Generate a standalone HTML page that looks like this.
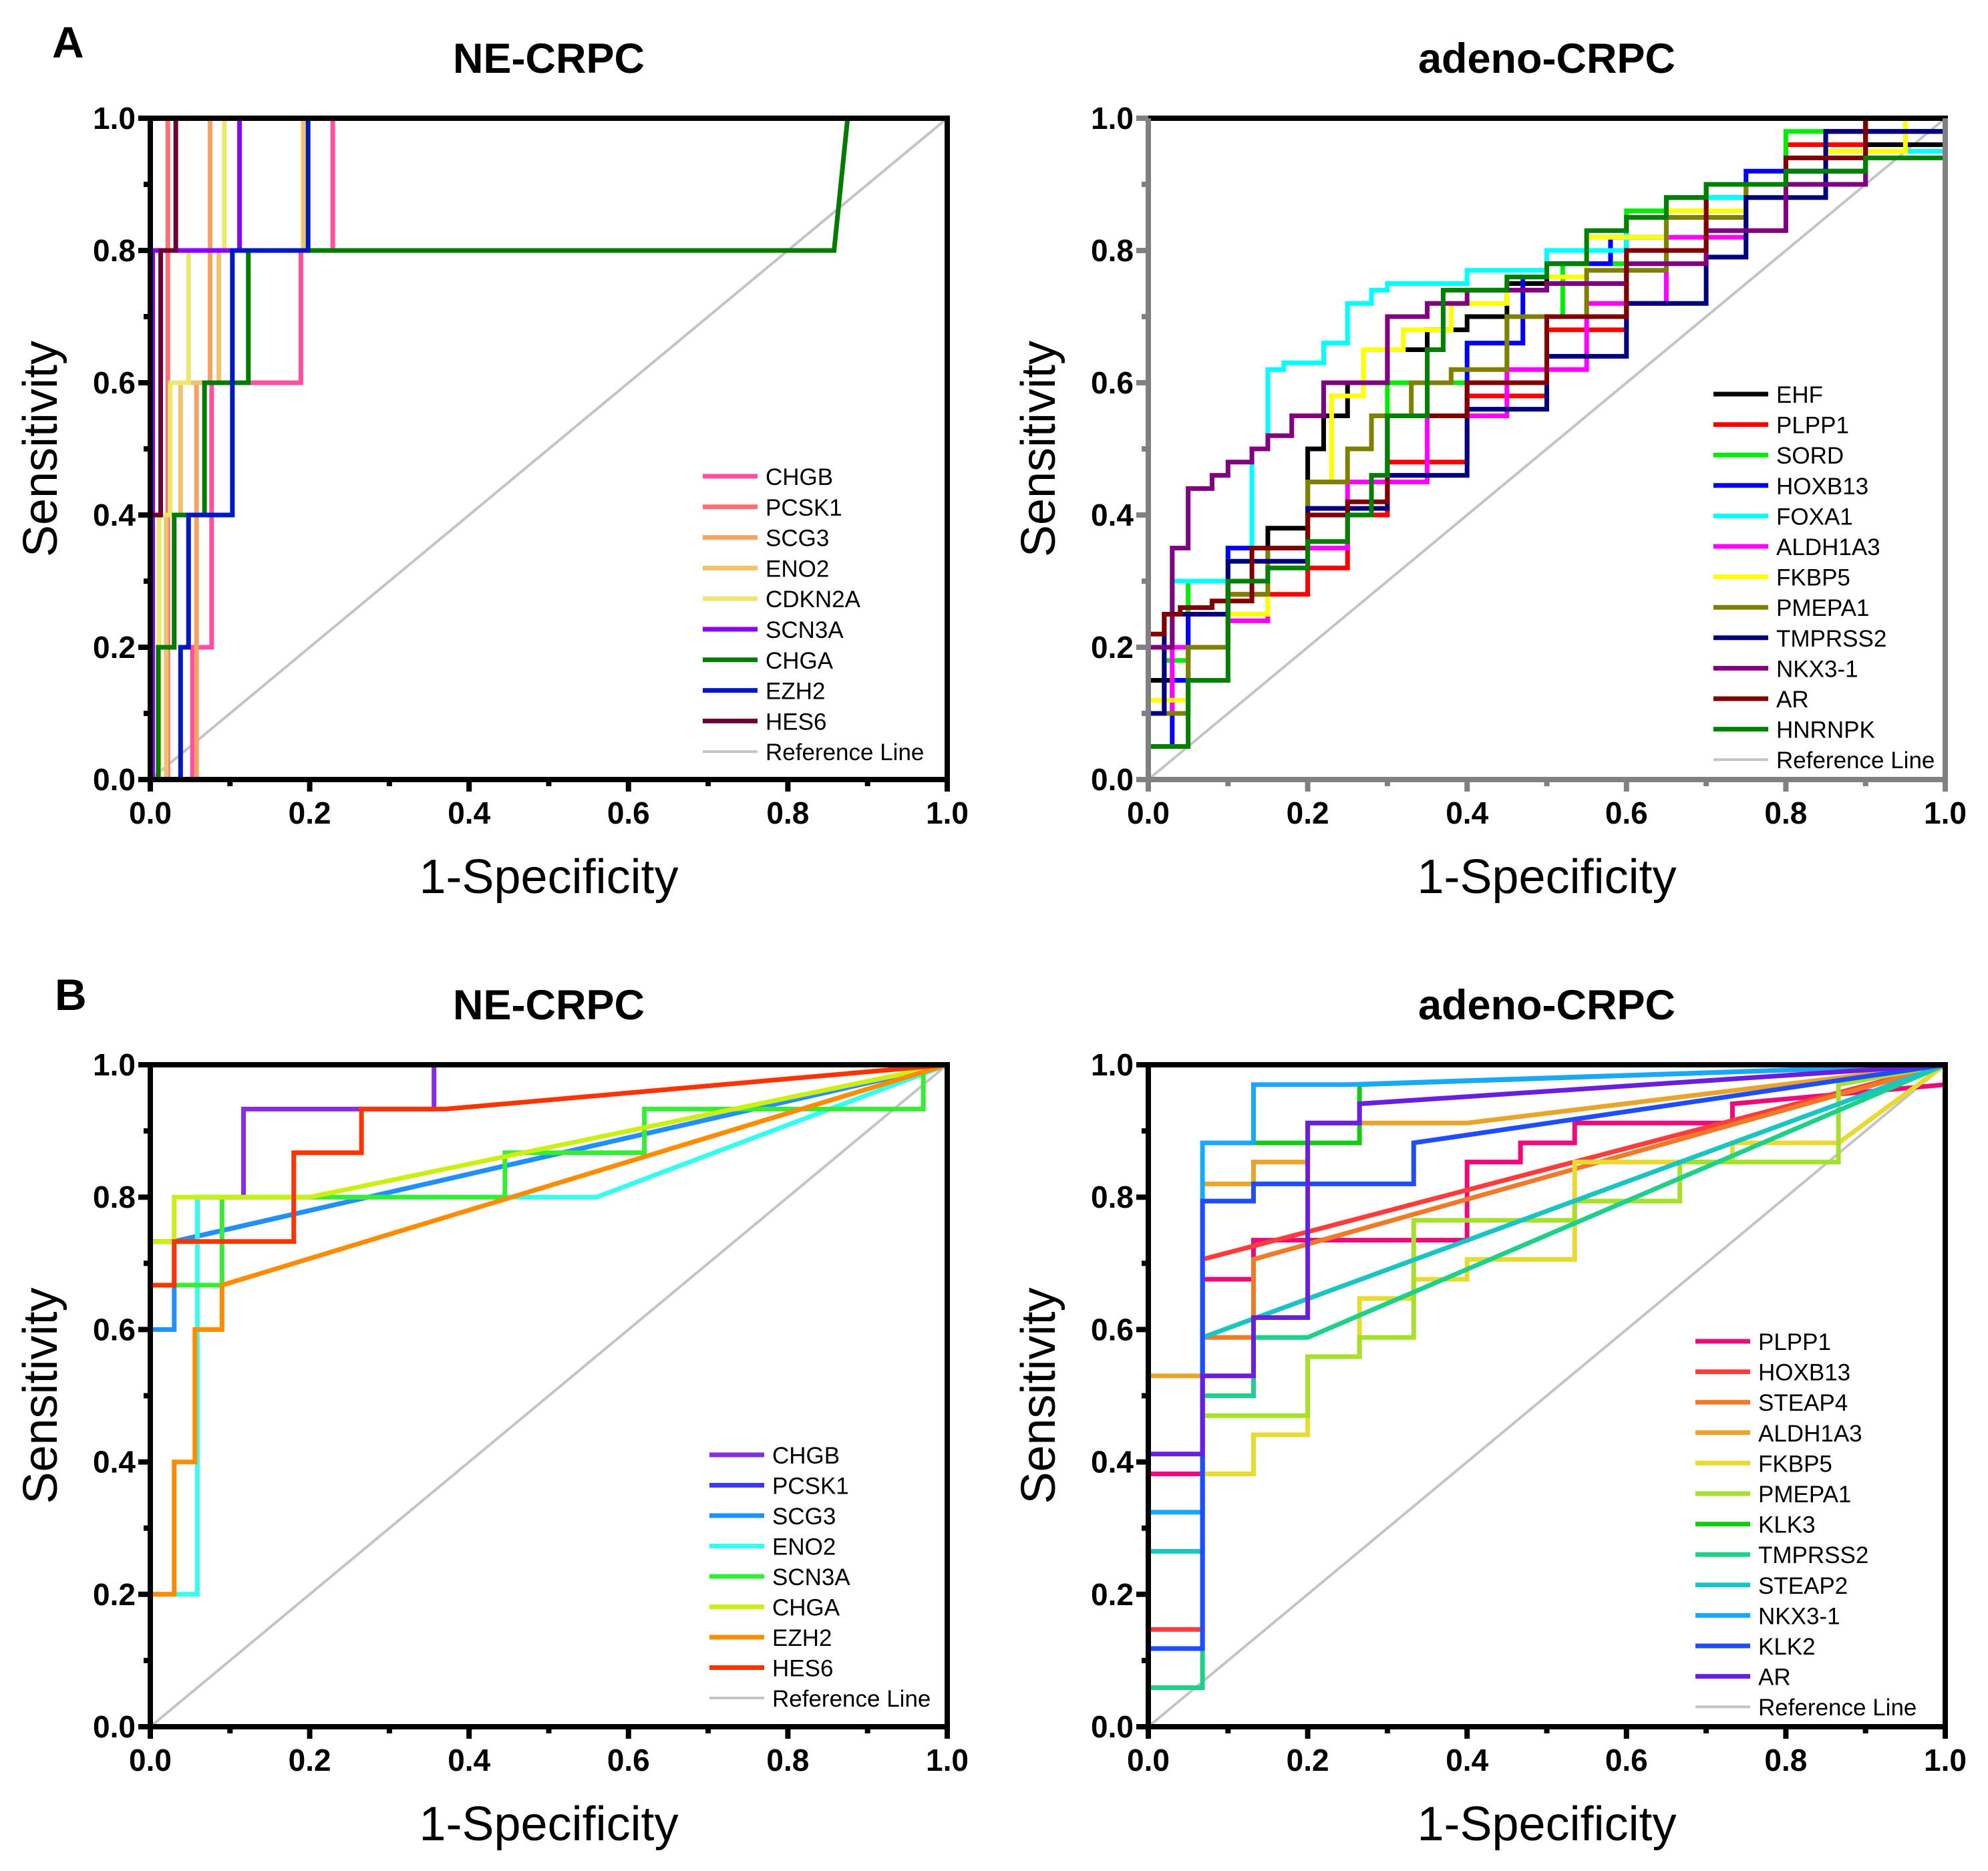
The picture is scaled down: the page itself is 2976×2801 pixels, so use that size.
<!DOCTYPE html>
<html><head><meta charset="utf-8">
<style>
html,body{margin:0;padding:0;background:#fff;}
svg{display:block;font-family:"Liberation Sans",Arial,sans-serif;}
</style></head>
<body>
<svg id="fig" width="2976" height="2801" viewBox="0 0 2976 2801" xmlns="http://www.w3.org/2000/svg">
<text x="78" y="86" font-size="66" font-weight="bold">A</text>
<text x="82" y="1512" font-size="66" font-weight="bold">B</text>
</svg>
<script>
// ---------- data ----------
const xTickLabels = ["0.0","0.2","0.4","0.6","0.8","1.0"];
const yTickLabels = ["0.0","0.2","0.4","0.6","0.8","1.0"];

// Panel A-left (NE-CRPC) : explicit point lists
const aLeftNames = ["CHGB","PCSK1","SCG3","ENO2","CDKN2A","SCN3A","CHGA","EZH2","HES6"];
const aLeftColors = ["#ff4fa3","#ff6f6f","#f4a460","#eec36a","#ece86e","#8a00ff","#007d00","#0018c0","#6c0035"];
const aLeftX = [
 [0,0.053,0.053,0.077,0.077,0.189,0.189,0.229,0.229,1],
 [0,0.022,0.022,1],
 [0,0.058,0.058,0.075,0.075,1],
 [0,0.02,0.02,0.038,0.038,0.086,0.086,0.192,0.192,1],
 [0,0.011,0.011,0.025,0.025,0.048,0.048,0.093,0.093,1],
 [0,0.003,0.003,0.112,0.112,1],
 [0,0.01,0.01,0.03,0.03,0.068,0.068,0.123,0.123,0.858,0.875,1],
 [0,0.038,0.038,0.048,0.048,0.103,0.103,0.198,0.198,1],
 [0,0,0.013,0.013,0.032,0.032,1]
];
const aLeftY = [
 [0,0,0.2,0.2,0.6,0.6,0.8,0.8,1,1],
 [0,0,1,1],
 [0,0,0.6,0.6,1,1],
 [0,0,0.4,0.4,0.6,0.6,0.8,0.8,1,1],
 [0,0,0.4,0.4,0.6,0.6,0.8,0.8,1,1],
 [0,0,0.8,0.8,1,1],
 [0,0,0.2,0.2,0.4,0.4,0.6,0.6,0.8,0.8,1,1],
 [0,0,0.2,0.2,0.4,0.4,0.8,0.8,1,1],
 [0,0.4,0.4,0.8,0.8,1,1]
];

// Panel A-right (adeno-CRPC) : staircase waypoints
const aRightNames = ["EHF","PLPP1","SORD","HOXB13","FOXA1","ALDH1A3","FKBP5","PMEPA1","TMPRSS2","NKX3-1","AR","HNRNPK"];
const aRightColors = ["#000000","#ff0000","#00ee00","#0000ff","#00ffff","#ff00ff","#ffff00","#808000","#000080","#800080","#800000","#008000"];
const aRightX = [
 [0,0.05,0.1,0.15,0.2,0.22,0.25,0.3,0.35,0.4,0.45,0.5,0.6,0.7,0.8,0.9,1,1],
 [0,0.02,0.1,0.2,0.25,0.3,0.4,0.5,0.6,0.7,0.8,0.9,1],
 [0,0.02,0.05,0.1,0.2,0.3,0.45,0.52,0.6,0.7,0.8,1,1],
 [0,0.03,0.05,0.1,0.2,0.3,0.4,0.47,0.5,0.58,0.65,0.75,0.85,1,1],
 [0,0.03,0.1,0.13,0.15,0.17,0.22,0.25,0.28,0.3,0.4,0.5,0.6,0.7,0.8,0.9,1,1],
 [0,0.03,0.1,0.15,0.25,0.35,0.45,0.55,0.65,0.75,0.85,1,1],
 [0,0.05,0.1,0.15,0.2,0.23,0.27,0.32,0.38,0.45,0.55,0.65,0.75,0.85,0.95,1],
 [0,0.05,0.1,0.15,0.2,0.25,0.28,0.33,0.38,0.45,0.55,0.65,0.75,0.85,1,1],
 [0,0.02,0.1,0.2,0.3,0.4,0.5,0.6,0.7,0.75,0.85,1,1],
 [0,0.03,0.05,0.08,0.1,0.13,0.15,0.18,0.22,0.3,0.35,0.4,0.5,0.6,0.7,0.8,0.9,1],
 [0,0.02,0.04,0.08,0.13,0.2,0.25,0.3,0.4,0.5,0.6,0.7,0.8,0.9,1],
 [0,0.05,0.1,0.15,0.2,0.25,0.28,0.3,0.35,0.37,0.45,0.5,0.55,0.6,0.65,0.7,0.8,0.9,1,1]
];
const aRightY = [
 [0,0.15,0.25,0.3,0.38,0.5,0.55,0.6,0.65,0.68,0.7,0.75,0.8,0.85,0.9,0.92,0.96,1],
 [0,0.1,0.2,0.28,0.32,0.4,0.48,0.58,0.68,0.8,0.9,0.96,1],
 [0,0.1,0.18,0.3,0.35,0.45,0.6,0.7,0.78,0.86,0.9,0.98,1],
 [0,0.05,0.15,0.25,0.35,0.45,0.55,0.66,0.76,0.78,0.82,0.88,0.92,0.98,1],
 [0,0.1,0.3,0.33,0.5,0.62,0.63,0.66,0.72,0.74,0.75,0.77,0.8,0.85,0.88,0.9,0.95,1],
 [0,0.1,0.2,0.24,0.35,0.45,0.55,0.62,0.72,0.82,0.9,0.98,1],
 [0,0.12,0.2,0.25,0.35,0.45,0.58,0.65,0.68,0.72,0.76,0.82,0.86,0.9,0.95,1],
 [0,0.1,0.2,0.28,0.35,0.45,0.5,0.55,0.6,0.62,0.7,0.77,0.85,0.9,0.98,1],
 [0,0.1,0.25,0.33,0.41,0.46,0.56,0.64,0.72,0.79,0.88,0.98,1],
 [0.05,0.2,0.35,0.44,0.46,0.48,0.5,0.52,0.55,0.6,0.7,0.72,0.74,0.75,0.78,0.83,0.9,1],
 [0.19,0.22,0.25,0.26,0.27,0.35,0.4,0.42,0.55,0.6,0.7,0.8,0.9,0.94,1],
 [0,0.05,0.15,0.3,0.32,0.36,0.4,0.46,0.55,0.65,0.74,0.76,0.78,0.83,0.85,0.88,0.9,0.92,0.94,0.97,1]
];

// Panel B-left (NE-CRPC)
const bLeftNames = ["CHGB","PCSK1","SCG3","ENO2","SCN3A","CHGA","EZH2","HES6"];
const bLeftColors = ["#8a2be2","#3a3aff","#1e90ff","#33ffee","#33ee33","#ccee11","#ff8c00","#ff3300"];
const bLeftX = [
 [0,0.059,0.059,0.117,0.117,0.356,0.356,1],
 [0,0.03,1],
 [0,0.03,0.03,1],
 [0,0,0.059,0.059,0.56,1],
 [0,0.09,0.09,0.445,0.445,0.62,0.62,0.97,0.97,1],
 [0,0.03,0.03,0.2,1],
 [0,0,0.03,0.03,0.056,0.056,0.09,0.09,1],
 [0,0,0.03,0.03,0.18,0.18,0.265,0.265,0.37,1]
];
const bLeftY = [
 [0.733,0.733,0.8,0.8,0.933,0.933,1,1],
 [0.733,0.733,1],
 [0.6,0.6,0.733,1],
 [0,0.2,0.2,0.8,0.8,1],
 [0.667,0.667,0.8,0.8,0.867,0.867,0.933,0.933,1,1],
 [0.733,0.733,0.8,0.8,1],
 [0,0.2,0.2,0.4,0.4,0.6,0.6,0.667,1],
 [0,0.667,0.667,0.733,0.733,0.867,0.867,0.933,0.933,1]
];

// Panel B-right (adeno-CRPC)
const bRightNames = ["PLPP1","HOXB13","STEAP4","ALDH1A3","FKBP5","PMEPA1","KLK3","TMPRSS2","STEAP2","NKX3-1","KLK2","AR"];
const bRightColors = ["#ee0a7a","#ff3b3b","#f07a28","#e8a52a","#e8da30","#a6e02a","#11cc11","#1ed08a","#1ac4c4","#18a8ff","#1e4cff","#6a1ee0"];
const bRightX = [
 [0,0,0.068,0.068,0.132,0.132,0.4,0.4,0.467,0.467,0.535,0.535,0.733,0.733,1,1],
 [0,0.068,0.068,1],
 [0.068,0.132,0.132,1],
 [0,0,0.068,0.068,0.132,0.132,0.2,0.2,0.4,1],
 [0.068,0.132,0.132,0.2,0.2,0.265,0.265,0.333,0.333,0.4,0.4,0.535,0.535,0.733,0.733,0.866,1],
 [0.068,0.068,0.2,0.2,0.265,0.265,0.333,0.333,0.535,0.535,0.667,0.667,0.866,0.866,1],
 [0.068,0.265,0.265,1],
 [0,0.068,0.068,0.132,0.132,0.2,1],
 [0,0.068,0.068,1],
 [0,0.068,0.068,0.132,0.132,0.25,1],
 [0,0.068,0.068,0.132,0.132,0.333,0.333,1],
 [0,0,0.068,0.068,0.132,0.132,0.2,0.2,0.265,0.265,1]
];
const bRightY = [
 [0,0.382,0.382,0.676,0.676,0.735,0.735,0.853,0.853,0.882,0.882,0.912,0.912,0.941,0.97,1],
 [0.147,0.147,0.706,1],
 [0.588,0.588,0.706,1],
 [0.412,0.53,0.53,0.82,0.82,0.853,0.853,0.912,0.912,1],
 [0.382,0.382,0.441,0.441,0.559,0.559,0.647,0.647,0.676,0.676,0.706,0.706,0.853,0.853,0.882,0.882,1],
 [0.38,0.47,0.47,0.559,0.559,0.588,0.588,0.765,0.765,0.794,0.794,0.853,0.853,0.97,1],
 [0.882,0.882,0.97,1],
 [0.059,0.059,0.5,0.5,0.588,0.588,1],
 [0.265,0.265,0.588,1],
 [0.324,0.324,0.882,0.882,0.97,0.97,1],
 [0.118,0.118,0.794,0.794,0.82,0.82,0.882,1],
 [0,0.412,0.412,0.53,0.53,0.618,0.618,0.912,0.912,0.941,1]
];

// ---------- drawing ----------
const NS = "http://www.w3.org/2000/svg";
const svg = document.getElementById('fig');
function mk(tag, attrs, parent){
  const e = document.createElementNS(NS, tag);
  for (const k in attrs) e.setAttribute(k, attrs[k]);
  (parent||svg).appendChild(e);
  return e;
}
function panel(cfg){
  const {key, px, py, W, H, title, axisColor, names, colors, xs, ys, step, legX, legY, legStep} = cfg;
  const sx = v => px + v*W;
  const sy = v => py + H - v*H;
  const g = mk('g', {});
  
  
  const t = mk('text', {x: px+W/2, y: py-68, 'font-size':63, 'font-weight':'bold', 'text-anchor':'middle'}, g);
  
  
  t.textContent = title;
  const ref = mk('line', {x1:sx(0), y1:sy(0), x2:sx(1), y2:sy(1), stroke:'#c4c4c4', 'stroke-width':4}, g);
  
  
  names.forEach((n,i)=>{
    let pts = [];
    const X = xs[i], Y = ys[i];
    for (let j=0;j<X.length;j++){
      if (step && j>0) pts.push(sx(X[j-1])+','+sy(Y[j]));
      pts.push(sx(X[j])+','+sy(Y[j]));
    }
    const pl = mk('polyline', {points: pts.join(' '), fill:'none', stroke:colors[i], 'stroke-width':7, 'stroke-linejoin':'miter'}, g);
    
    
  });
  const ac = axisColor;
  const top = mk('line', {x1:px-4, y1:py, x2:px+W+4, y2:py, stroke:'#000', 'stroke-width':8}, g);
  
  
  const right = mk('line', {x1:px+W, y1:py, x2:px+W, y2:py+H, stroke:ac, 'stroke-width':8}, g);
  
  
  const left = mk('line', {x1:px, y1:py, x2:px, y2:py+H+4, stroke:ac, 'stroke-width':8}, g);
  
  
  const bottom = mk('line', {x1:px-4, y1:py+H, x2:px+W+4, y2:py+H, stroke:ac, 'stroke-width':8}, g);
  
  
  for (let k=0;k<=10;k++){
    const v = k/10, major = k%2===0, L = major?18:10;
    mk('line', {x1:sx(v), y1:py+H, x2:sx(v), y2:py+H+L, stroke:ac, 'stroke-width':8}, g);
    mk('line', {x1:px, y1:sy(v), x2:px-L, y2:sy(v), stroke:ac, 'stroke-width':8}, g);
  }
  xTickLabels.forEach((lab,k)=>{
    const e = mk('text', {x:sx(k/5), y:py+H+66, 'font-size':46, 'font-weight':'bold', 'text-anchor':'middle'}, g);
    
    
    e.textContent = lab;
  });
  yTickLabels.forEach((lab,k)=>{
    const e = mk('text', {x:px-22, y:sy(k/5)+16, 'font-size':46, 'font-weight':'bold', 'text-anchor':'end'}, g);
    
    
    e.textContent = lab;
  });
  const xt = mk('text', {x:px+W/2, y:py+H+170, 'font-size':72, 'text-anchor':'middle'}, g);
  
  
  xt.textContent = '1-Specificity';
  const yt = mk('text', {x:0, y:0, 'font-size':72, 'text-anchor':'middle', transform:'translate('+(px-140)+','+(py+H/2)+') rotate(-90)'}, g);
  
  
  yt.textContent = 'Sensitivity';
  const lg = mk('g', {}, g);
  
  
  const entries = names.map((n,i)=>[n, colors[i], 7]).concat([['Reference Line','#c4c4c4',4]]);
  entries.forEach((en,i)=>{
    const yy = legY + i*legStep;
    const ln = mk('line', {x1:legX, y1:yy, x2:legX+82, y2:yy, stroke:en[1], 'stroke-width':en[2]}, lg);
    
    
    const tx = mk('text', {x:legX+94, y:yy+13, 'font-size':35}, lg);
    
    
    tx.textContent = en[0];
  });
}
panel({key:'a-left', px:225, py:177, W:1193, H:990, title:'NE-CRPC', axisColor:'#000',
  names:aLeftNames, colors:aLeftColors, xs:aLeftX, ys:aLeftY, step:false, legX:1052, legY:713, legStep:45.8});
panel({key:'a-right', px:1719, py:177, W:1193, H:990, title:'adeno-CRPC', axisColor:'#808080',
  names:aRightNames, colors:aRightColors, xs:aRightX, ys:aRightY, step:true, legX:2565, legY:590, legStep:45.6});
panel({key:'b-left', px:225, py:1594, W:1193, H:991, title:'NE-CRPC', axisColor:'#000',
  names:bLeftNames, colors:bLeftColors, xs:bLeftX, ys:bLeftY, step:false, legX:1062, legY:2178, legStep:45.5});
panel({key:'b-right', px:1719, py:1594, W:1193, H:991, title:'adeno-CRPC', axisColor:'#000',
  names:bRightNames, colors:bRightColors, xs:bRightX, ys:bRightY, step:false, legX:2538, legY:2008, legStep:45.6});
</script>
</body></html>
